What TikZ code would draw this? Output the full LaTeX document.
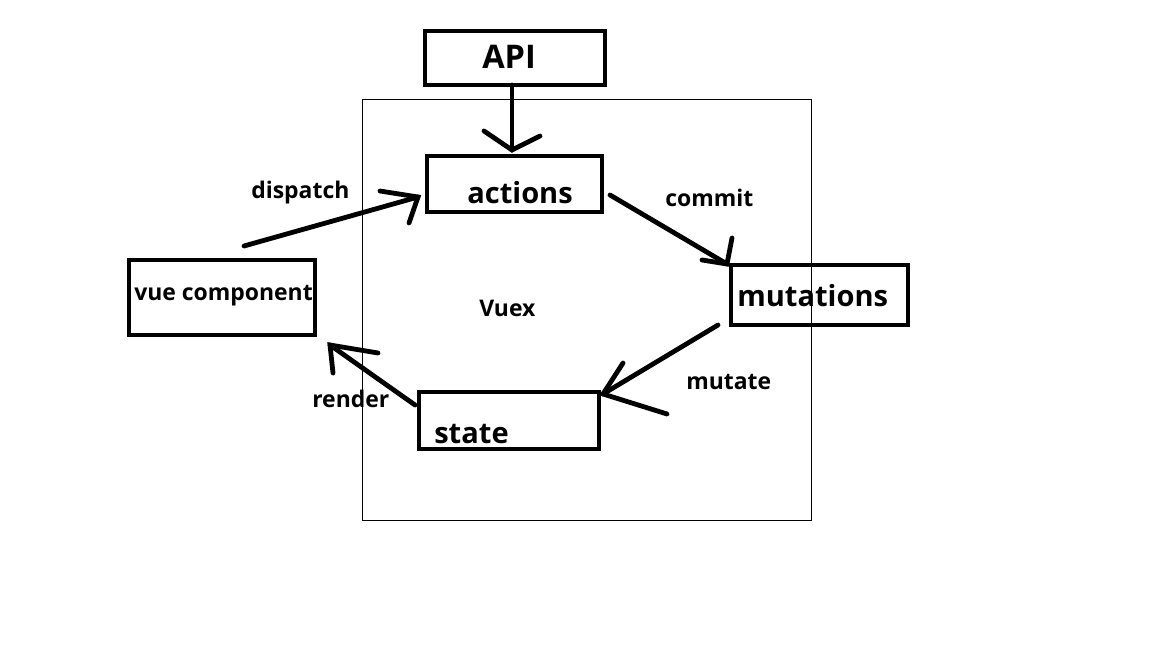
\documentclass[tikz,border=0pt]{standalone}
\usepackage{fontspec}
\setmainfont{Open Sans}
\begin{document}
\begin{tikzpicture}[x=0.75pt,y=-0.75pt,
  box/.style={draw=black,line width=3pt,minimum width=#1,inner sep=0pt},
  frame/.style={draw=black,line width=0.75pt},
  conn/.style={draw=black,line width=3.6pt,line cap=round},
  small/.style={anchor=base west,inner sep=0pt,font=\fontsize{17.2}{19}\selectfont\bfseries},
  big/.style={anchor=base west,inner sep=0pt,font=\fontsize{21.8}{24}\selectfont\bfseries},
  huge/.style={anchor=base west,inner sep=0pt,font=\fontsize{24.4}{27}\selectfont\bfseries}]
\useasboundingbox (0,0) rectangle (1152,648);
% Vuex frame
\node[frame,minimum width=449*0.75pt,minimum height=420*0.75pt,inner sep=0pt] (vuex) at (586.5,310) {};
\node[small] (vuexlbl) at (479,317) {Vuex};
% boxes
\node[box=180*0.75pt,minimum height=54*0.75pt] (api) at (515,58) {};
\node[box=175*0.75pt,minimum height=56*0.75pt] (actions) at (514.5,184) {};
\node[box=186*0.75pt,minimum height=75*0.75pt] (vue) at (222,297.5) {};
\node[box=177*0.75pt,minimum height=60*0.75pt] (mutations) at (819.5,295) {};
\node[box=180*0.75pt,minimum height=57*0.75pt] (state) at (509,420.5) {};
% box labels
\node[huge] (apilbl) at (482,69) {API};
\node[big] (actlbl) at (467,204) {actions};
\node[small] (vuelbl) at (134,301) {vue component};
\node[big] (mutlbl) at (737,307) {mutations};
\node[big] (statelbl) at (434,443) {state};
% connector labels
\node[small] (dispatchlbl) at (251,199) {dispatch};
\node[small] (commitlbl) at (665,207) {commit};
\node[small] (mutatelbl) at (686,389) {mutate};
\node[small] (renderlbl) at (312,407) {render};
% coordinates
\coordinate (a0) at (512,85);
\coordinate (a1) at (512,150);
\coordinate (a2) at (484,131);
\coordinate (a3) at (540,136);
\coordinate (d0) at (244,246);
\coordinate (d1) at (418,197);
\coordinate (d2) at (380,191);
\coordinate (d3) at (409,223);
\coordinate (c0) at (610,195);
\coordinate (c1) at (727,264);
\coordinate (c2) at (702,260);
\coordinate (c3) at (732,238);
\coordinate (m0) at (718,325);
\coordinate (m1) at (603,394);
\coordinate (m2) at (623,363);
\coordinate (m3) at (667,414);
\coordinate (r0) at (415,405);
\coordinate (r1) at (330,345);
\coordinate (r2) at (378,353);
\coordinate (r3) at (333,373);
% connectors
\draw[conn] (a0) -- (a1);
\draw[conn] (a2) -- (a1) -- (a3);
\draw[conn] (d0) -- (d1);
\draw[conn] (d2) -- (d1) -- (d3);
\draw[conn] (c0) -- (c1);
\draw[conn] (c2) -- (c1) -- (c3);
\draw[conn] (m0) -- (m1);
\draw[conn] (m2) -- (m1) -- (m3);
\draw[conn] (r0) -- (r1);
\draw[conn] (r2) -- (r1) -- (r3);
\end{tikzpicture}
\end{document}
